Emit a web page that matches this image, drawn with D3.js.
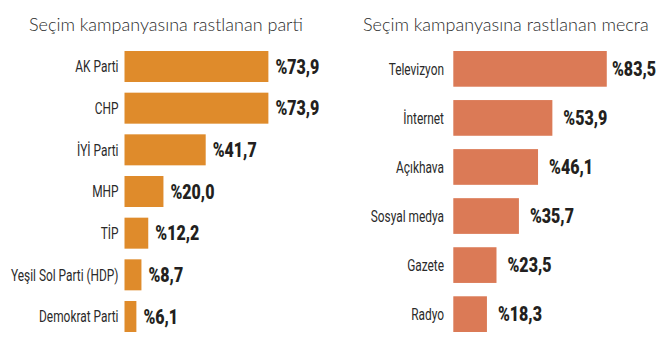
<!DOCTYPE html>
<html>
<head>
<meta charset="utf-8">
<script src="https://cdn.jsdelivr.net/npm/d3@7"></script>
<style>
  html, body { margin: 0; padding: 0; background: #ffffff; }
  svg { display: block; }
</style>
</head>
<body>
<svg id="chart" width="667" height="342"></svg>
<script>
// ---- data ----
const partyTitle = "Seçim kampanyasına rastlanan parti";
const partyCategories = ["AK Parti", "CHP", "İYİ Parti", "MHP", "TİP", "Yeşil Sol Parti (HDP)", "Demokrat Parti"];
const partyValues = [73.9, 73.9, 41.7, 20.0, 12.2, 8.7, 6.1];

const mediaTitle = "Seçim kampanyasına rastlanan mecra";
const mediaCategories = ["Televizyon", "İnternet", "Açıkhava", "Sosyal medya", "Gazete", "Radyo"];
const mediaValues = [83.5, 53.9, 46.1, 35.7, 23.5, 18.3];

const fmt = v => "%" + v.toFixed(1).replace(".", ",");

const svg = d3.select("#chart");

const LABEL_FONT = "Roboto, 'Liberation Sans', sans-serif";
const VALUE_FONT = "Roboto, 'Liberation Sans', sans-serif";
const LABEL_K = 0.70, VALUE_K = 0.80;

function panel(opts) {
  const g = svg.append("g");
  const data = opts.categories.map((c, i) => ({ c, v: opts.values[i] }));
  const x = d3.scaleLinear().domain([0, 100]).range([opts.x0, opts.x0 + opts.pxPer100]);
  const y = d3.scaleBand().domain(opts.categories).range([51, 332])
    .paddingInner(opts.padding).paddingOuter(0);

  g.append("text")
    .attr("x", opts.titleX).attr("y", 31)
    .attr("font-family", "Lato, 'Open Sans', sans-serif")
    .attr("font-weight", 300)
    .attr("font-size", 18)
    .attr("fill", "#2b2b2b")
    .text(opts.title);

  g.selectAll("rect.bar").data(data).join("rect")
    .attr("class", "bar")
    .attr("x", x(0))
    .attr("y", d => y(d.c))
    .attr("width", d => x(d.v) - x(0))
    .attr("height", y.bandwidth())
    .attr("fill", opts.color);

  g.selectAll("text.cat").data(data).join("text")
    .attr("class", "cat")
    .attr("transform", d => `translate(${opts.labelRight},${y(d.c) + y.bandwidth() / 2}) scale(${LABEL_K},1)`)
    .attr("text-anchor", "end")
    .attr("dominant-baseline", "central")
    .attr("font-family", LABEL_FONT)
    .attr("font-size", 17)
    .attr("fill", "#2a2a2a")
    .text(d => d.c);

  g.selectAll("text.val").data(data).join("text")
    .attr("class", "val")
    .attr("dominant-baseline", "central")
    .attr("font-family", VALUE_FONT)
    .attr("font-weight", 900)
    .attr("font-size", 20)
    .attr("fill", "#231f20")
    .text(d => fmt(d.v))
    .attr("transform", function (d) {
      const w = this.getComputedTextLength() * VALUE_K;
      const xs = Math.min(x(d.v) + opts.gap, opts.maxRight - w);
      return `translate(${xs},${y(d.c) + y.bandwidth() / 2}) scale(${VALUE_K},1)`;
    });
}

panel({
  title: partyTitle, titleX: 29,
  categories: partyCategories, values: partyValues,
  x0: 124.5, pxPer100: 194.7, padding: 0.256,
  color: "#df8b2b", labelRight: 118.5, gap: 7, maxRight: 330
});

panel({
  title: mediaTitle, titleX: 363,
  categories: mediaCategories, values: mediaValues,
  x0: 453.3, pxPer100: 183.8, padding: 0.272,
  color: "#db7a56", labelRight: 444, gap: 11, maxRight: 656
});
</script>
</body>
</html>
